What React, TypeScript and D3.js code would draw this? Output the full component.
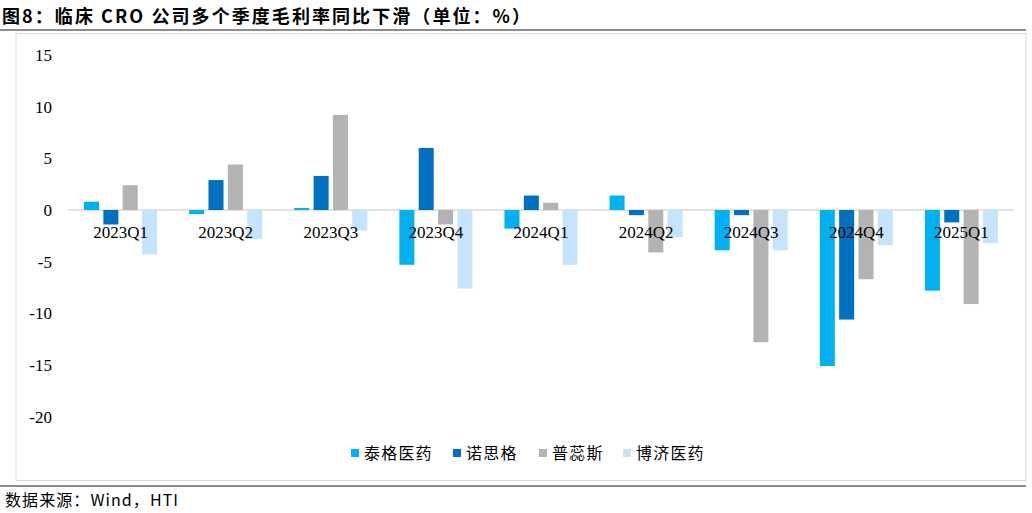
import React, { useEffect, useRef } from "react";
import * as d3 from "d3";

const quarters = [
  "2023Q1", "2023Q2", "2023Q3", "2023Q4",
  "2024Q1", "2024Q2", "2024Q3", "2024Q4", "2025Q1",
];

const companies = ["泰格医药", "诺思格", "普蕊斯", "博济医药"];

// gross margin YoY change, percentage points
const tigermed = [0.8, -0.4, 0.2, -5.3, -1.8, 1.4, -3.9, -15.1, -7.8];
const northgrass = [-1.4, 2.9, 3.3, 6.0, 1.4, -0.5, -0.5, -10.6, -1.2];
const pureSite = [2.4, 4.4, 9.2, -1.4, 0.7, -4.1, -12.8, -6.7, -9.1];
const bojiMedical = [-4.3, -2.8, -2.0, -7.6, -5.3, -2.6, -3.9, -3.4, -3.2];

const yTicks = [15, 10, 5, 0, -5, -10, -15, -20];

const colors = ["#00B0F0", "#0070C0", "#B3B3B3", "#C5E4FB"];

const title = "图8：临床 CRO 公司多个季度毛利率同比下滑（单位：%）";
const source = "数据来源：Wind，HTI";

export default function App() {
  const svgRef = useRef<SVGSVGElement>(null);

  useEffect(() => {
    if (!svgRef.current) return;
    const svg = d3.select(svgRef.current);
    svg.selectAll("*").remove();

    const series = [tigermed, northgrass, pureSite, bojiMedical];
    const plot = { left: 68, right: 1014, top: 55, bottom: 416.7 };
    const serif = "'Liberation Serif', 'Times New Roman', serif";
    const cjk = "'Noto Sans CJK SC', sans-serif";

    // Title and rules
    svg.append("text")
      .attr("x", 2)
      .attr("y", 23)
      .attr("font-family", cjk)
      .attr("font-weight", "bold")
      .attr("font-size", 18)
      .attr("fill", "#000")
      .attr("textLength", 528)
      .attr("lengthAdjust", "spacing")
      .text(title);

    svg.append("line")
      .attr("x1", 0).attr("x2", 1026)
      .attr("y1", 30).attr("y2", 30)
      .attr("stroke", "#666")
      .attr("stroke-width", 1.5);

    // chart frame
    svg.append("rect")
      .attr("x", 16).attr("y", 33.5)
      .attr("width", 1010).attr("height", 447)
      .attr("fill", "none")
      .attr("stroke", "#d9d9d9")
      .attr("stroke-width", 1);

    svg.append("line")
      .attr("x1", 0).attr("x2", 1026)
      .attr("y1", 486).attr("y2", 486)
      .attr("stroke", "#666")
      .attr("stroke-width", 1.5);

    svg.append("text")
      .attr("x", 5)
      .attr("y", 506)
      .attr("font-family", cjk)
      .attr("font-size", 16)
      .attr("fill", "#000")
      .attr("textLength", 173)
      .attr("lengthAdjust", "spacing")
      .text(source);

    // Scales
    const x0 = d3.scaleBand<string>()
      .domain(quarters)
      .range([plot.left, plot.right])
      .paddingInner(0.305)
      .paddingOuter(0.1525);

    const x1 = d3.scaleBand<number>()
      .domain(d3.range(companies.length))
      .range([0, x0.bandwidth()])
      .paddingInner(0.224);

    const y = d3.scaleLinear()
      .domain([-20, 15])
      .range([plot.bottom, plot.top]);

    const g = svg.append("g");

    // Zero line
    g.append("line")
      .attr("x1", plot.left).attr("x2", plot.right)
      .attr("y1", y(0)).attr("y2", y(0))
      .attr("stroke", "#d9d9d9")
      .attr("stroke-width", 1.5);

    // Bars
    series.forEach((values, si) => {
      g.append("g")
        .selectAll("rect")
        .data(values)
        .join("rect")
        .attr("x", (_, i) => (x0(quarters[i]) ?? 0) + (x1(si) ?? 0))
        .attr("y", (d) => y(Math.max(0, d)))
        .attr("width", x1.bandwidth())
        .attr("height", (d) => Math.abs(y(d) - y(0)))
        .attr("fill", colors[si]);
    });

    // Y tick labels (no axis line)
    g.append("g")
      .selectAll("text")
      .data(yTicks)
      .join("text")
      .attr("x", 52)
      .attr("y", (d) => y(d) + 6)
      .attr("text-anchor", "end")
      .attr("font-family", serif)
      .attr("font-size", 17)
      .attr("fill", "#000")
      .text((d) => d);

    // Category labels sit just under the zero line, over the bars
    g.append("g")
      .selectAll("text")
      .data(quarters)
      .join("text")
      .attr("x", (d) => (x0(d) ?? 0) + x0.bandwidth() / 2)
      .attr("y", y(0) + 28)
      .attr("text-anchor", "middle")
      .attr("font-family", serif)
      .attr("font-size", 17)
      .attr("fill", "#000")
      .text((d) => d);

    // Legend
    const legendX = [351, 453, 539, 623];
    const legend = svg.append("g").attr("transform", "translate(0, 453)");
    companies.forEach((name, i) => {
      legend.append("rect")
        .attr("x", legendX[i])
        .attr("y", -4)
        .attr("width", 8)
        .attr("height", 8)
        .attr("fill", colors[i]);
      legend.append("text")
        .attr("x", legendX[i] + 13)
        .attr("y", 6)
        .attr("font-family", cjk)
        .attr("font-size", 16)
        .attr("letter-spacing", 1.2)
        .attr("fill", "#000")
        .text(name);
    });
  }, []);

  return (
    <svg
      ref={svgRef}
      width={1032}
      height={513}
      style={{ position: "absolute", left: 0, top: 0, background: "#fff", display: "block" }}
    />
  );
}
